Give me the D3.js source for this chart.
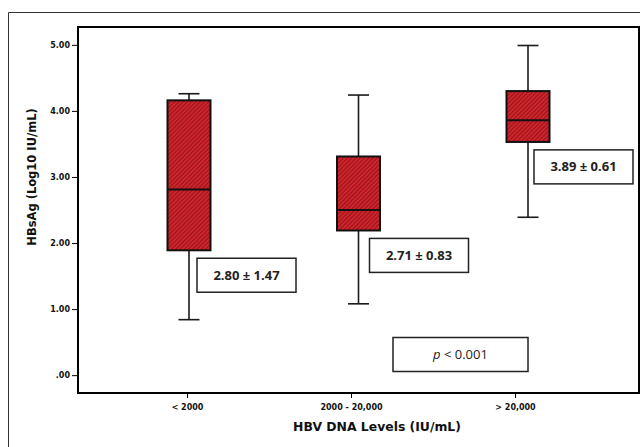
<!DOCTYPE html>
<html><head><meta charset="utf-8">
<script src="https://cdn.jsdelivr.net/npm/d3@7"></script>
<style>body{margin:0;background:#fff}svg{display:block}</style>
</head><body>
<svg id="c" width="640" height="447"></svg>
<script>
const categories = ["< 2000", "2000 - 20,000", "> 20,000"];
const whiskerLow  = [0.84, 1.08, 2.39];
const q1          = [1.89, 2.19, 3.53];
const medians     = [2.81, 2.50, 3.86];
const q3          = [4.16, 3.31, 4.30];
const whiskerHigh = [4.26, 4.24, 4.99];
const meanLabels  = ["2.80 ± 1.47", "2.71 ± 0.83", "3.89 ± 0.61"];
const yTicks      = [0, 1, 2, 3, 4, 5];
const yTickLabels = [".00", "1.00", "2.00", "3.00", "4.00", "5.00"];
const pLabel      = ["p", " < 0.001"];

const svg = d3.select("#c");
const plot = {left: 78, right: 639, top: 27, bottom: 393};

const defs = svg.append("defs");
const pat = defs.append("pattern").attr("id","hatch").attr("patternUnits","userSpaceOnUse")
  .attr("width",3).attr("height",3).attr("patternTransform","rotate(-45)");
pat.append("rect").attr("width",3).attr("height",3).attr("fill","#d1232b");
pat.append("line").attr("x1",0).attr("y1",0).attr("x2",3).attr("y2",0)
  .attr("stroke","#5c0c0e").attr("stroke-width",1.1);

// outer frame
svg.append("path").attr("d","M8.5,447 V12.5 H640").attr("fill","none").attr("stroke","#333").attr("stroke-width",1);

const y = d3.scaleLinear().domain([-0.27, 5.27]).range([plot.bottom, plot.top]);
const xAxisScale = d3.scalePoint().domain(categories).range([187, 515]);
const xBox = d3.scalePoint().domain(categories).range([189, 528]);

// plot frame
svg.append("rect").attr("x",plot.left).attr("y",plot.top)
  .attr("width",plot.right-plot.left).attr("height",plot.bottom-plot.top)
  .attr("fill","none").attr("stroke","#000").attr("stroke-width",2);

// y axis
const yAxis = d3.axisLeft(y).tickValues(yTicks).tickFormat((d,i)=>yTickLabels[i]).tickSize(5).tickPadding(2);
const gy = svg.append("g").attr("transform",`translate(${plot.left-1},0)`).call(yAxis);
gy.select(".domain").remove();
gy.selectAll("text").attr("font-family","DejaVu Sans").attr("font-weight","bold").attr("font-size",8).attr("fill","#111");
gy.selectAll("line").attr("stroke","#000");

// x axis
const xAxis = d3.axisBottom(xAxisScale).tickSize(4).tickPadding(6);
const gx = svg.append("g").attr("transform",`translate(0,${plot.bottom+1})`).call(xAxis);
gx.select(".domain").remove();
gx.selectAll("text").attr("font-family","DejaVu Sans").attr("font-weight","bold").attr("font-size",8).attr("fill","#111");
gx.selectAll("line").attr("stroke","#000");

// axis titles
svg.append("text").attr("x",377).attr("y",431).attr("text-anchor","middle")
  .attr("font-family","DejaVu Sans").attr("font-weight","bold").attr("font-size",12.4).attr("fill","#111")
  .text("HBV DNA Levels (IU/mL)");
svg.append("text").attr("transform","translate(36,177) rotate(-90)").attr("text-anchor","middle")
  .attr("font-family","DejaVu Sans").attr("font-weight","bold").attr("font-size",11.5).attr("fill","#111")
  .text("HBsAg (Log10 IU/mL)");

// boxes
const boxW = 43, capW = 21;
const g = svg.append("g");
categories.forEach((c,i)=>{
  const cx = xBox(c);
  g.append("line").attr("x1",cx).attr("x2",cx).attr("y1",y(whiskerLow[i])).attr("y2",y(q1[i])).attr("stroke","#1a1a1a").attr("stroke-width",1.6);
  g.append("line").attr("x1",cx).attr("x2",cx).attr("y1",y(q3[i])).attr("y2",y(whiskerHigh[i])).attr("stroke","#1a1a1a").attr("stroke-width",1.6);
  g.append("line").attr("x1",cx-capW/2).attr("x2",cx+capW/2).attr("y1",y(whiskerLow[i])).attr("y2",y(whiskerLow[i])).attr("stroke","#1a1a1a").attr("stroke-width",1.6);
  g.append("line").attr("x1",cx-capW/2).attr("x2",cx+capW/2).attr("y1",y(whiskerHigh[i])).attr("y2",y(whiskerHigh[i])).attr("stroke","#1a1a1a").attr("stroke-width",1.6);
  g.append("rect").attr("x",cx-boxW/2).attr("y",y(q3[i])).attr("width",boxW).attr("height",y(q1[i])-y(q3[i]))
    .attr("fill","url(#hatch)").attr("stroke","#111").attr("stroke-width",2);
  g.append("line").attr("x1",cx-boxW/2).attr("x2",cx+boxW/2).attr("y1",y(medians[i])).attr("y2",y(medians[i])).attr("stroke","#111").attr("stroke-width",2);
});

// mean ± sd labels
const labW = 99, labH = 34;
const labOffsets = [[8, 0.12], [11, 0.12], [6, 0.12]]; // px right of box center, gap in data units below q1
const lab = svg.append("g");
categories.forEach((c,i)=>{
  const x0 = xBox(c) + labOffsets[i][0];
  const y0 = y(q1[i] - labOffsets[i][1]);
  lab.append("rect").attr("x",x0).attr("y",y0).attr("width",labW).attr("height",labH)
    .attr("fill","#fff").attr("stroke","#222").attr("stroke-width",1.5);
  lab.append("text").attr("x",x0+labW/2).attr("y",y0+labH/2+4.5).attr("text-anchor","middle")
    .attr("font-family","Open Sans").attr("font-weight","bold").attr("font-size",13).attr("fill","#222")
    .text(meanLabels[i]);
});

// p-value box
const pb = {x: 393, y: 337.5, w: 135, h: 34};
svg.append("rect").attr("x",pb.x).attr("y",pb.y).attr("width",pb.w).attr("height",pb.h)
  .attr("fill","#fff").attr("stroke","#222").attr("stroke-width",1.5);
const pt = svg.append("text").attr("x",pb.x+pb.w/2).attr("y",pb.y+pb.h/2+4.5).attr("text-anchor","middle")
  .attr("font-family","Open Sans").attr("font-size",13).attr("fill","#222");
pt.append("tspan").attr("font-style","italic").text(pLabel[0]);
pt.append("tspan").text(pLabel[1]);
</script>
</body></html>
